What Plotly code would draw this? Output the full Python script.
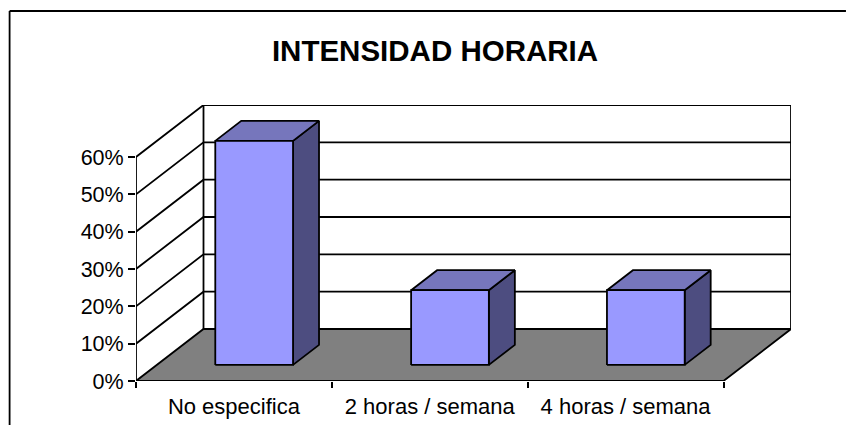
import plotly.graph_objects as go

title = "INTENSIDAD HORARIA"
categories = ["No especifica", "2 horas / semana", "4 horas / semana"]
values = [0.60, 0.20, 0.20]
y_ticks = [0, 0.1, 0.2, 0.3, 0.4, 0.5, 0.6]
y_labels = ["0%", "10%", "20%", "30%", "40%", "50%", "60%"]

W, H = 846, 425
L, R, T, B = 135.5, 791, 105, 381          # plot box in page pixels
n = len(categories)
PX_PER_CAT = (723 - 135.5) / n
PX_PER_VAL = (381 - 157) / 0.6
DX = 67.5 / PX_PER_CAT                      # shear of full depth, in axis units
DY = 52 / PX_PER_VAL
ymax = max(y_ticks)
BAR_W, BAR_OFF, D0, D1 = 0.397, 0.298, 0.31, 0.695
INK = "#000000"
LW = 1.8


def proj(x, v, d):
    return x + d * DX, v + d * DY


fig = go.Figure()


def poly(pts, fill=None):
    xs = [p[0] for p in pts]
    ys = [p[1] for p in pts]
    fig.add_trace(go.Scatter(
        x=xs, y=ys, mode="lines", hoverinfo="skip", showlegend=False,
        line=dict(color=INK, width=LW),
        fill="toself" if fill else None, fillcolor=fill,
    ))


# walls and gridlines
for v in y_ticks[1:]:
    poly([proj(0, v, 0), proj(0, v, 1), proj(n, v, 1)])
poly([proj(0, 0, 0), proj(0, ymax, 0)])
poly([proj(0, 0, 1), proj(0, ymax, 1)])
poly([proj(n, 0, 1), proj(n, ymax, 1)])

# floor
poly([proj(0, 0, 0), proj(n, 0, 0), proj(n, 0, 1), proj(0, 0, 1), proj(0, 0, 0)], "#808080")

# bars
for i, v in enumerate(values):
    x0 = i + BAR_OFF
    x1 = x0 + BAR_W
    poly([proj(x1, 0, D0), proj(x1, 0, D1), proj(x1, v, D1), proj(x1, v, D0), proj(x1, 0, D0)], "#4D4D80")
    poly([proj(x0, v, D0), proj(x1, v, D0), proj(x1, v, D1), proj(x0, v, D1), proj(x0, v, D0)], "#7676BC")
    poly([proj(x0, 0, D0), proj(x1, 0, D0), proj(x1, v, D0), proj(x0, v, D0), proj(x0, 0, D0)], "#9999FF")

x_font = dict(family="Liberation Sans, Arial, sans-serif", size=22, color="#000000")
y_font = dict(family="Liberation Sans, Arial, sans-serif", size=21.5, color="#000000")
fig.update_xaxes(
    range=[0, n + DX], showgrid=False, zeroline=False, showline=False, automargin=False,
    tickmode="array", tickvals=[i + 0.5 for i in range(n)], ticktext=categories,
    ticks="", tickfont=x_font, ticklabelstandoff=10,
    minor=dict(tickmode="array", tickvals=list(range(n + 1)), ticks="outside",
               ticklen=6, tickwidth=LW, tickcolor=INK, showgrid=False),
)
fig.update_yaxes(
    range=[0, ymax + DY], showgrid=False, zeroline=False, showline=False, automargin=False,
    tickmode="array", tickvals=y_ticks, ticktext=y_labels,
    ticks="outside", ticklen=7, tickwidth=LW, tickcolor=INK, tickfont=y_font,
)


def px(x):
    return (x - L) / (R - L)


def py(y):
    return (B - y) / (B - T)


frame = dict(color=INK, width=1.8)
fig.update_layout(
    width=W, height=H, autosize=False,
    margin=dict(l=L, r=W - R, t=T, b=H - B, pad=0),
    paper_bgcolor="#FFFFFF", plot_bgcolor="#FFFFFF",
    showlegend=False,
    title=dict(text=f"<b>{title}</b>", x=435 / W, xanchor="center", y=1 - 51 / H, yanchor="middle",
               font=dict(family="Liberation Sans, Arial, sans-serif", size=29.5, color="#000000")),
    shapes=[
        dict(type="line", xref="paper", yref="paper", x0=px(9), x1=px(W), y0=py(11), y1=py(11), line=frame),
        dict(type="line", xref="paper", yref="paper", x0=px(9), x1=px(9), y0=py(11), y1=py(H), line=frame),
    ],
)

fig.write_html("out.html", config={"displayModeBar": False},
               post_script="document.body.style.margin='0';")
